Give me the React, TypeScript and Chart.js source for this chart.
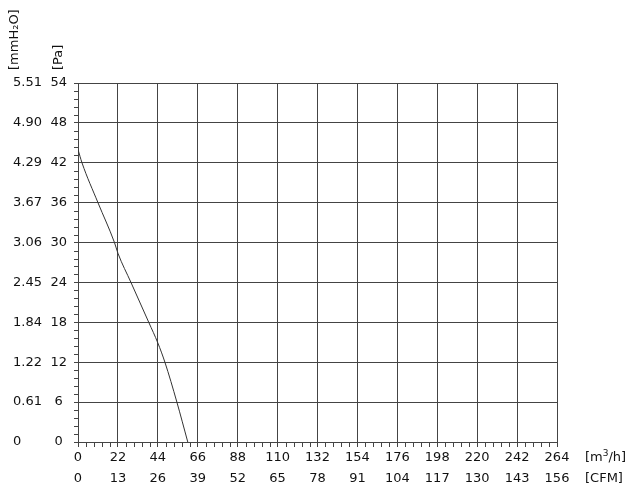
import React, { useEffect, useRef } from 'react';
import { Chart, registerables } from 'chart.js';

Chart.register(...registerables);

// Curve: flow [m³/h] vs static pressure [Pa]
const flowM3h = [0, 2.2, 11, 20.1, 22, 29.2, 39, 44, 47.9, 54.5, 60.5];
const pressurePa = [44, 42, 36, 30, 28.4, 24, 18, 14.9, 12, 6, 0];

// Tick labels
const m3hTicks = [0, 22, 44, 66, 88, 110, 132, 154, 176, 198, 220, 242, 264];
const cfmTicks = ['0', '13', '26', '39', '52', '65', '78', '91', '104', '117', '130', '143', '156'];
const paTicks = [0, 6, 12, 18, 24, 30, 36, 42, 48, 54];
const mmTicks = ['0', '0.61', '1.22', '1.84', '2.45', '3.06', '3.67', '4.29', '4.90', '5.51'];

const FONT = "'DejaVu Sans', Verdana, sans-serif";
const FS = 13;
const GRID = '#444';
const TXT = '#111';

const minorTicksPlugin = {
  id: 'minorTicks',
  afterDraw(chart: any) {
    const { ctx, chartArea, scales } = chart;
    const xs = scales.x;
    const ys = scales.y;
    ctx.save();
    ctx.strokeStyle = GRID;
    ctx.lineWidth = 1;
    ctx.beginPath();
    for (let i = 0; i < m3hTicks.length - 1; i++) {
      for (let k = 1; k < 5; k++) {
        const v = m3hTicks[i] + ((m3hTicks[i + 1] - m3hTicks[i]) * k) / 5;
        const px = Math.round(xs.getPixelForValue(v)) + 0.5;
        ctx.moveTo(px, chartArea.bottom);
        ctx.lineTo(px, chartArea.bottom + 5);
      }
    }
    for (let i = 0; i < paTicks.length - 1; i++) {
      for (let k = 1; k < 5; k++) {
        const v = paTicks[i] + ((paTicks[i + 1] - paTicks[i]) * k) / 5;
        const py = Math.round(ys.getPixelForValue(v)) + 0.5;
        ctx.moveTo(chartArea.left - 4, py);
        ctx.lineTo(chartArea.left, py);
      }
    }
    ctx.stroke();
    ctx.restore();
  },
};

const titlesPlugin = {
  id: 'axisTitles',
  afterDraw(chart: any) {
    const { ctx, chartArea, scales } = chart;
    ctx.save();
    ctx.fillStyle = TXT;
    ctx.font = `${FS}px ${FONT}`;
    ctx.textBaseline = 'middle';
    ctx.textAlign = 'left';
    const drawVert = (text: string, x: number, y: number) => {
      ctx.save();
      ctx.translate(x, y);
      ctx.rotate(-Math.PI / 2);
      ctx.fillText(text, 0, 0);
      ctx.restore();
    };
    drawVert('[mmH₂O]', scales.yMm.left + 2, chartArea.top - 13);
    drawVert('[Pa]', scales.y.left + 11, chartArea.top - 13);

    // [m³/h] with a real superscript
    const ux = chartArea.right + 28;
    const uy = scales.x.top + 5 + 3 + FS * 0.6;
    let cx = ux;
    ctx.fillText('[m', cx, uy);
    cx += ctx.measureText('[m').width;
    ctx.font = `${Math.round(FS * 0.7)}px ${FONT}`;
    ctx.fillText('3', cx, uy - 4);
    cx += ctx.measureText('3').width;
    ctx.font = `${FS}px ${FONT}`;
    ctx.fillText('/h]', cx, uy);

    ctx.fillText('[CFM]', ux, scales.cfm.top + 5 + FS * 0.6);
    ctx.restore();
  },
};

export default function App() {
  const ref = useRef<HTMLCanvasElement | null>(null);

  useEffect(() => {
    if (!ref.current) return;
    Chart.defaults.font.family = FONT;
    Chart.defaults.font.size = FS;
    Chart.defaults.color = TXT;

    const chart = new Chart(ref.current, {
      type: 'line',
      data: {
        datasets: [
          {
            data: flowM3h.map((x, i) => ({ x, y: pressurePa[i] })),
            borderColor: '#333',
            borderWidth: 1,
            pointRadius: 0,
            cubicInterpolationMode: 'monotone',
            xAxisID: 'x',
            yAxisID: 'y',
          },
        ],
      },
      options: {
        animation: false,
        responsive: false,
        layout: { padding: { left: 13, right: 84, top: 83, bottom: 7.5 } },
        plugins: { legend: { display: false }, tooltip: { enabled: false } },
        scales: {
          x: {
            type: 'linear',
            position: 'bottom',
            weight: 0,
            min: 0,
            max: 264,
            ticks: {
              stepSize: 22,
              autoSkip: false,
              maxRotation: 0,
              padding: 3,
              color: TXT,
              callback: (_v: any, i: number) => String(m3hTicks[i]),
            },
            grid: { color: GRID, tickLength: 5, lineWidth: 1 },
            border: { color: GRID },
            afterFit: (s: any) => { s.height = 23.5; },
          },
          cfm: {
            type: 'linear',
            position: 'bottom',
            weight: 1,
            min: 0,
            max: 264,
            ticks: {
              stepSize: 22,
              autoSkip: false,
              maxRotation: 0,
              padding: 5,
              color: TXT,
              callback: (_v: any, i: number) => cfmTicks[i],
            },
            grid: { display: false, drawTicks: false },
            border: { display: false },
            afterFit: (s: any) => { s.height = 21; },
          },
          y: {
            type: 'linear',
            position: 'left',
            weight: 0,
            min: 0,
            max: 54,
            ticks: {
              stepSize: 6,
              autoSkip: false,
              padding: 7,
              crossAlign: 'center',
              color: TXT,
              callback: (_v: any, i: number) => String(paTicks[i]),
            },
            grid: { color: GRID, tickLength: 4, lineWidth: 1 },
            border: { color: GRID },
            afterFit: (s: any) => { s.width = 30; },
          },
          yMm: {
            type: 'linear',
            position: 'left',
            weight: 1,
            min: 0,
            max: 54,
            ticks: {
              stepSize: 6,
              autoSkip: false,
              padding: 0,
              crossAlign: 'far',
              color: TXT,
              callback: (_v: any, i: number) => mmTicks[i],
            },
            grid: { display: false, drawTicks: false },
            border: { display: false },
            afterFit: (s: any) => { s.width = 35; },
          },
        },
      } as any,
      plugins: [minorTicksPlugin, titlesPlugin],
    });
    return () => chart.destroy();
  }, []);

  return (
    <div style={{ position: 'absolute', left: 0, top: 0, width: 641, height: 494, background: '#fff' }}>
      <canvas ref={ref} width={641} height={494} style={{ display: 'block' }} />
    </div>
  );
}
